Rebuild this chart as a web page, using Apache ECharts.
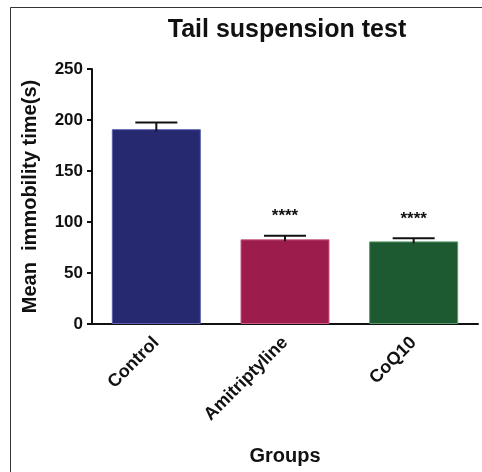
<!DOCTYPE html>
<html>
<head>
<meta charset="utf-8">
<script src="https://cdn.jsdelivr.net/npm/echarts@6/dist/echarts.min.js"></script>
<style>html,body{margin:0;padding:0;background:#fff}#c{width:482px;height:472px}</style>
</head>
<body>
<div id="c"></div>
<script>
var categories = ['Control', 'Amitriptyline', 'CoQ10'];
var means = [191, 83, 81];
var sems = [6.5, 3.5, 3];
var significance = ['', '****', '****'];
var barColors = ['#262870', '#9c1c4c', '#1d5a31'];
var barBorders = ['#5a5fb0', '#c85a85', '#5a9a6a'];
var yTicks = [0, 50, 100, 150, 200, 250];

var FONT = '"Liberation Sans", Arial, Helvetica, sans-serif';
var chart = echarts.init(document.getElementById('c'), null, {renderer: 'canvas'});

var errData = categories.map(function (c, i) { return [i, means[i], sems[i], significance[i]]; });

chart.setOption({
  animation: false,
  backgroundColor: '#fff',
  title: {
    text: 'Tail suspension test',
    left: 282, top: 13, textAlign: 'center',
    textStyle: {fontFamily: FONT, fontWeight: 'bold', fontSize: 25, color: '#111'}
  },
  graphic: [
    {type: 'line', shape: {x1: 10.5, y1: 7.5, x2: 10.5, y2: 472}, style: {stroke: '#333', lineWidth: 1}},
    {type: 'line', shape: {x1: 10.5, y1: 7.5, x2: 482, y2: 7.5}, style: {stroke: '#333', lineWidth: 1}}
  ],
  grid: {left: 92, right: 4, top: 69, bottom: 148},
  xAxis: {
    type: 'category',
    data: categories,
    name: 'Groups',
    nameLocation: 'middle',
    nameGap: 122,
    nameTextStyle: {fontFamily: FONT, fontWeight: 'bold', fontSize: 20, color: '#111'},
    axisLine: {lineStyle: {color: '#111', width: 2}},
    axisTick: {alignWithLabel: true, length: 7, lineStyle: {color: '#111', width: 2}},
    axisLabel: {rotate: 45, margin: 16, fontFamily: FONT, fontWeight: 'bold', fontSize: 18, color: '#111', interval: 0}
  },
  yAxis: {
    type: 'value',
    min: 0, max: 250, interval: 50,
    name: 'Mean  immobility time(s)',
    nameLocation: 'middle',
    nameGap: 52,
    nameTextStyle: {fontFamily: FONT, fontWeight: 'bold', fontSize: 20, color: '#111'},
    axisLine: {show: true, lineStyle: {color: '#111', width: 2}},
    axisTick: {show: true, length: 5, lineStyle: {color: '#111', width: 2}},
    splitLine: {show: false},
    axisLabel: {margin: 9, fontFamily: FONT, fontWeight: 'bold', fontSize: 17, color: '#111'}
  },
  series: [
    {
      type: 'bar',
      barWidth: 89,
      data: means.map(function (v, i) {
        return {value: v, itemStyle: {color: barColors[i], borderColor: barBorders[i], borderWidth: 1}};
      })
    },
    {
      type: 'custom',
      data: errData,
      z: 10,
      renderItem: function (params, api) {
        var x = api.value(0), m = api.value(1), s = api.value(2);
        var top = api.coord([x, m + s]);
        var base = api.coord([x, m]);
        var half = 21;
        var children = [
          {type: 'line', shape: {x1: top[0], y1: base[1] + 2, x2: top[0], y2: top[1]}, style: {stroke: '#111', lineWidth: 2}},
          {type: 'line', shape: {x1: top[0] - half, y1: top[1], x2: top[0] + half, y2: top[1]}, style: {stroke: '#111', lineWidth: 2}}
        ];
        var star = significance[params.dataIndex];
        if (star) {
          children.push({type: 'text', style: {text: star, x: top[0], y: top[1] - 19, textAlign: 'center', textVerticalAlign: 'middle', font: 'bold 17px ' + FONT, fill: '#111'}});
        }
        return {type: 'group', children: children};
      }
    }
  ]
});
</script>
</body>
</html>
